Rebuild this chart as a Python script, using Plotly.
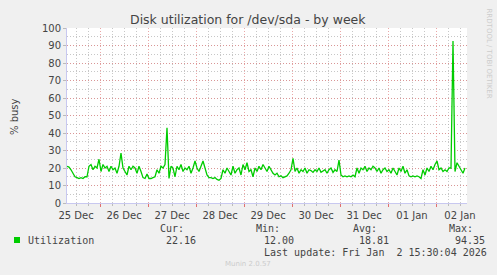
import plotly.graph_objects as go
import pandas as pd

# ---------------- data (hourly samples) ----------------
start_time = "2025-12-25 07:30"
utilization = [
    21, 20.5, 19, 17, 15, 14.5, 14, 14.5, 14, 15,
    15, 21, 22, 19, 21, 20, 25, 18, 22, 20,
    21, 18, 21, 19, 20, 17, 21, 28.5, 20, 18,
    16, 21, 19, 21, 20, 17, 21, 18, 14.5, 14,
    16.5, 14, 14, 14.5, 15, 19, 17, 21, 20, 22,
    43, 14, 21, 20, 15, 21, 19, 22, 18, 20,
    19, 21, 17, 20, 24, 20, 18, 21, 24, 20,
    16, 14.5, 14.5, 14, 14.5, 13.5, 13, 14, 19, 17,
    20, 18, 16, 21, 17, 19, 20, 16, 22, 19,
    23, 18, 19, 15, 20, 18, 21, 19, 22, 20,
    18, 21, 19, 17, 16, 17, 15, 15.5, 14.5, 15,
    15.5, 17, 19, 25.5, 18, 20, 17, 19, 18, 20,
    17, 19, 18.5, 17.5, 19, 18, 20, 17.5, 18.5, 19,
    17, 19, 20, 17.5, 19, 18, 24.5, 16, 15, 15.5,
    15, 15.5, 15, 16, 15, 20, 17, 20, 19, 21,
    18, 20, 19, 21, 20, 18, 20, 17, 19, 20,
    18, 19, 17, 20, 18, 16, 20, 18, 21, 17,
    19, 15.5, 15, 15.5, 15, 15.5, 15, 14, 19, 16,
    20, 18, 21, 19, 22, 24, 19, 20, 18, 19,
    18, 20, 20, 92.5, 18, 23, 21, 19, 17, 20,
]
times = pd.date_range(start_time, periods=len(utilization), freq="h")

y_ticks = list(range(0, 101, 10))
title_text = "Disk utilization for /dev/sda - by week"
legend_name = "Utilization"
stats_labels = ["Cur:", "Min:", "Avg:", "Max:"]
stats_values = ["22.16", "12.00", "18.81", "94.35"]
last_update = "Last update: Fri Jan  2 15:30:04 2026"
x_range = ["2025-12-25 07:30", "2026-01-02 15:30"]

# ---------------- layout geometry ----------------
W, H = 497, 275
L, R, T, B = 67, 467, 28, 203


def px(x):
    return (x - L) / (R - L)


def py(y):
    return (B - y) / (B - T)


GREEN = "#00CC00"
TEXT = "#444444"
MONO = "DejaVu Sans Mono"
SANS = "DejaVu Sans"

fig = go.Figure()
fig.add_trace(go.Scatter(
    x=times, y=utilization, mode="lines",
    line=dict(color=GREEN, width=1.3),
    name=legend_name, showlegend=False, hoverinfo="skip",
))

red_grid = "rgba(225,130,130,0.7)"
gray_grid = "rgba(175,175,175,0.7)"
axis_col = "#C8C8F0"
DOT = "1px,2px"

fig.update_layout(
    width=W, height=H,
    margin=dict(l=L, r=W - R, t=T, b=H - B),
    paper_bgcolor="#F0F0F0",
    plot_bgcolor="#FFFFFF",
    showlegend=False,
    xaxis=dict(
        type="date", range=x_range,
        tick0="2025-12-25", dtick=86400000,
        tickformat="%d %b", ticklabelmode="period",
        showgrid=True, gridcolor=red_grid, griddash=DOT, gridwidth=1,
        ticks="outside", ticklen=3, tickcolor="#E07070",
        tickfont=dict(family=SANS, size=10, color=TEXT),
        showline=True, linecolor=axis_col, linewidth=1,
        minor=dict(dtick=6 * 3600 * 1000, showgrid=True, gridcolor=gray_grid,
                   griddash=DOT, gridwidth=1, ticks="outside", ticklen=2,
                   tickcolor="#BBBBBB"),
        zeroline=False, fixedrange=True,
    ),
    yaxis=dict(
        range=[0, 100], tickvals=y_ticks,
        showgrid=True, gridcolor=red_grid, griddash=DOT, gridwidth=1,
        ticks="outside", ticklen=3, tickcolor="#BBBBBB",
        tickfont=dict(family=SANS, size=10, color=TEXT),
        showline=True, linecolor=axis_col, linewidth=1,
        minor=dict(dtick=5, showgrid=True, gridcolor=gray_grid,
                   griddash=DOT, gridwidth=1),
        zeroline=False, fixedrange=True,
    ),
)

ann = []
ann.append(dict(text=title_text, x=px(248), y=py(19), xref="paper", yref="paper",
                xanchor="center", yanchor="middle", showarrow=False,
                font=dict(family=SANS, size=12.5, color=TEXT)))
ann.append(dict(text="% busy", x=px(14), y=py(117), xref="paper", yref="paper",
                xanchor="center", yanchor="middle", showarrow=False, textangle=-90,
                font=dict(family=SANS, size=10, color=TEXT)))
ann.append(dict(text="RRDTOOL / TOBI OETIKER", x=px(488.5), y=py(53), xref="paper", yref="paper",
                xanchor="center", yanchor="middle", showarrow=False, textangle=90,
                font=dict(family=SANS, size=7, color="#CCCCCC")))
ann.append(dict(text=legend_name, x=px(26), y=py(240), xref="paper", yref="paper",
                xanchor="left", yanchor="middle", showarrow=False,
                font=dict(family=MONO, size=10, color=TEXT)))
label_x = [158, 254, 351, 447]
value_x = [164, 261.5, 357, 453]
for lx, vx, lab, val in zip(label_x, value_x, stats_labels, stats_values):
    ann.append(dict(text=lab, x=px(lx), y=py(228), xref="paper", yref="paper",
                    xanchor="left", yanchor="middle", showarrow=False,
                    font=dict(family=MONO, size=10, color=TEXT)))
    ann.append(dict(text=val, x=px(vx), y=py(240), xref="paper", yref="paper",
                    xanchor="left", yanchor="middle", showarrow=False,
                    font=dict(family=MONO, size=10, color=TEXT)))
ann.append(dict(text=last_update, x=px(261.5), y=py(252), xref="paper", yref="paper",
                xanchor="left", yanchor="middle", showarrow=False,
                font=dict(family=MONO, size=10, color=TEXT)))
ann.append(dict(text="Munin 2.0.57", x=px(248), y=py(263.5), xref="paper", yref="paper",
                xanchor="center", yanchor="middle", showarrow=False,
                font=dict(family=SANS, size=7, color="#CCCCCC")))
fig.update_layout(annotations=ann)

fig.add_shape(type="rect", xref="paper", yref="paper",
              x0=px(14), x1=px(20), y0=py(243), y1=py(237),
              fillcolor=GREEN, line=dict(width=0))

fig.write_html("out.html")
